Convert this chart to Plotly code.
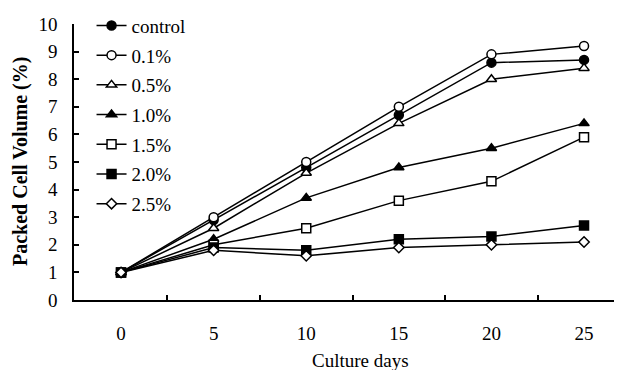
import plotly.graph_objects as go

days = [0, 5, 10, 15, 20, 25]
series_names = ["control", "0.1%", "0.5%", "1.0%", "1.5%", "2.0%", "2.5%"]
control = [1.0, 2.9, 4.8, 6.7, 8.6, 8.7]
p01 = [1.0, 3.0, 5.0, 7.0, 8.9, 9.2]
p05 = [1.0, 2.6, 4.6, 6.4, 8.0, 8.4]
p10 = [1.0, 2.2, 3.7, 4.8, 5.5, 6.4]
p15 = [1.0, 2.0, 2.6, 3.6, 4.3, 5.9]
p20 = [1.0, 1.9, 1.8, 2.2, 2.3, 2.7]
p25 = [1.0, 1.8, 1.6, 1.9, 2.0, 2.1]
y_ticks = list(range(0, 11))
x_minor_ticks = [2.5, 7.5, 12.5, 17.5, 22.5, 27.5]

values = [control, p01, p05, p10, p15, p20, p25]
symbols = ["circle", "circle", "triangle-up", "triangle-up", "square", "square", "diamond"]
fills = ["black", "white", "white", "black", "white", "black", "white"]
sizes = [9, 9, 9, 9, 9, 9, 8]

FONT = "Liberation Serif"

# the page body has an 8px margin; figure is sized/offset to compensate
W, H = 614, 362
ML, MR, MT, MB = 66, 0, 16, 70
plot_w = W - ML - MR
plot_h = H - MT - MB

fig = go.Figure()
for i, (name, vals) in enumerate(zip(series_names, values)):
    fig.add_trace(go.Scatter(
        x=days, y=vals, name=name, mode="lines+markers",
        legendgroup=f"g{i}",
        line=dict(color="black", width=1.5),
        marker=dict(symbol=symbols[i], size=sizes[i], color=fills[i],
                    line=dict(color="black", width=1.5)),
    ))

fig.update_layout(
    width=W, height=H,
    margin=dict(l=ML, r=MR, t=MT, b=MB, autoexpand=False),
    paper_bgcolor="white", plot_bgcolor="white",
    font=dict(family=FONT, size=19, color="black"),
    showlegend=True,
    legend=dict(x=0.032, y=1.063, xanchor="left", yanchor="top",
                bgcolor="rgba(0,0,0,0)", font=dict(family=FONT, size=19),
                tracegroupgap=2, itemwidth=30, maxheight=1.0),
    xaxis=dict(
        range=[-2.54, 27.05], showline=True, linecolor="black", linewidth=1.5,
        tickvals=days, ticktext=[str(d) for d in days], ticks="", ticklabelstandoff=15,
        showgrid=False, zeroline=False, automargin=False,
        minor=dict(tickvals=x_minor_ticks, ticks="inside", ticklen=5, tickcolor="black", tickwidth=1.5),
    ),
    yaxis=dict(
        range=[0, 10], showline=True, linecolor="black", linewidth=1.5,
        tickvals=y_ticks, ticks="inside", ticklen=5, tickwidth=1.5, tickcolor="black",
        showgrid=False, zeroline=False, ticklabelstandoff=11, automargin=False,
    ),
    annotations=[
        dict(text="Culture days", x=(352 - ML) / plot_w, y=(MT + plot_h - 352) / plot_h,
             xref="paper", yref="paper",
             xanchor="center", yanchor="middle", showarrow=False,
             font=dict(family=FONT, size=19)),
        dict(text="<b>Packed Cell Volume (%)</b>", x=(12 - ML) / plot_w, y=(MT + plot_h - 154) / plot_h,
             xref="paper", yref="paper",
             textangle=-90, xanchor="center", yanchor="middle", showarrow=False,
             font=dict(family=FONT, size=20)),
    ],
)

fig.write_html("out.html")
